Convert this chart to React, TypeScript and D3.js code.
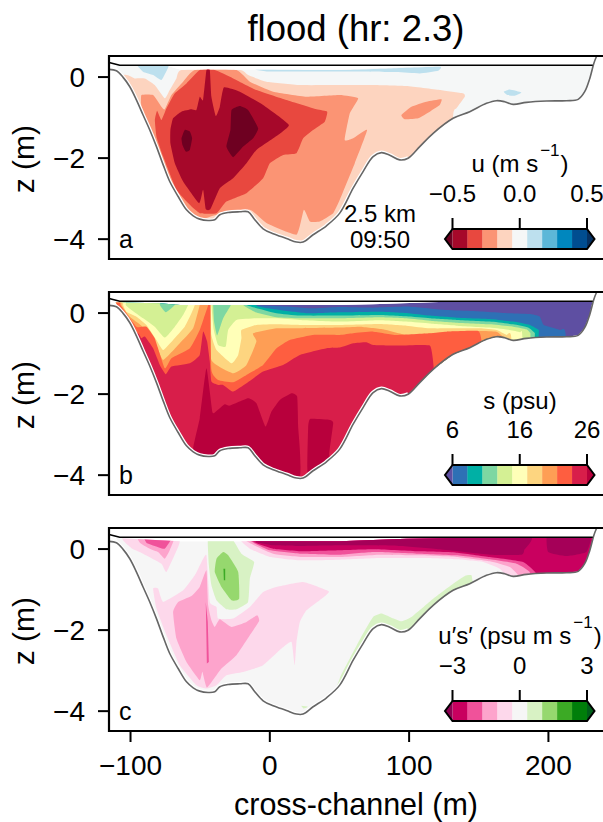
import React from "react";
import * as d3 from "d3";

type P = [number, number];

// Traced positions were read against a provisional x unit; this converts them to metres.
const TRACE_TO_M = 0.9619;

const xTicks = [-100, 0, 100, 200];
const zTicks = [0, -2, -4];
const panelLetters = ["a", "b", "c"];

const bathy: P[] = [[-119.9,.189],[-114.5,.156],[-109.5,-.008],[-104.5,-.238],[-99.5,-.567],[-94.6,-.936],[-89.6,-1.305],[-84.6,-1.716],[-79.6,-2.167],[-74.7,-2.578],[-68.4,-2.948],[-62.2,-3.276],[-57.2,-3.424],[-52.3,-3.506],[-46.1,-3.539],[-41.1,-3.522],[-37.3,-3.399],[-31.1,-3.342],[-22.4,-3.325],[-16.2,-3.325],[-11.2,-3.522],[-5,-3.744],[2.5,-3.867],[12.4,-3.982],[19.9,-4.072],[24.8,-4.072],[32.3,-3.892],[42.3,-3.67],[52.2,-3.358],[62.2,-2.742],[69.6,-2.332],[77.1,-1.962],[83.3,-1.864],[89.5,-1.929],[97,-2.044],[103.2,-2.003],[111.9,-1.716],[121.9,-1.388],[136.8,-1.018],[149.2,-.854],[161.7,-.649],[169.1,-.583],[175.3,-.608],[181.6,-.673],[191.5,-.624],[206.4,-.591],[221.4,-.583],[230.1,-.55],[235,-.361],[238.8,-.033],[241.8,.337],[243.7,.501]];
const surface: P[] = [[-120,.36],[-112,.29],[241,.29]];

const waterTopA: P[] = [[-115,.279],[-75.9,.271],[-67.2,.189],[52.2,.189],[89.5,.238],[126.8,.279],[241,.287]];
const waterTopB: P[] = [[-115,.26],[-82,.241],[-67,.2],[52.2,.2],[77,.216],[131.8,.282],[241,.298]];
const waterTopC: P[] = [[-115,.273],[-67.2,.191],[52.2,.191],[102,.257],[151.7,.282],[241,.29]];

// ---- panel a: u ----
const uColors = ["#a6082a","#e8483f","#fb9474","#fdd4bf","#f5f7f7","#bde0ee","#5cb7d8","#0087be","#004d90"];
const uExtend = ["#6e0021","#053061"];
const uTicks = ["−0.5","0.0","0.5"];
const uLight: P[] = [[-112,-.115],[-100.8,-.033],[-93.3,-.033],[-85.9,-.197],[-78.4,-.525],[-74.7,-.32],[-69.7,-.033],[-65.9,.172],[-22.4,.172],[-16.2,.049],[-2.5,-.115],[22.4,-.197],[52.2,-.197],[77.1,-.197],[102,-.222],[126.8,-.32],[144.2,-.402],[145.5,-.484],[139.3,-.772],[136.8,-1.018],[136.8,-5],[-120,-5]];
const uMed: P[] = [[-95.8,-.443],[-87.1,-.443],[-80.9,-.731],[-78.4,-.796],[-73.4,-.443],[-64.7,-.115],[-56,.172],[-24.9,.172],[-14.9,-.115],[2.5,-.361],[27.4,-.484],[52.2,-.443],[65.9,-.525],[59.7,-.895],[55.9,-1.552],[62.2,-1.511],[72.6,-1.305],[63.4,-2.126],[52.2,-3.03],[47.3,-3.358],[37.3,-3.563],[29.9,-3.563],[25.4,-3.276],[19.9,-3.891],[-2.5,-3.604],[-14.9,-3.276],[-39.8,-3.399],[-52.3,-3.522],[-64.7,-3.276],[-74.7,-2.619],[-83.4,-1.88],[-89.6,-1.264],[-95.8,-.731]];
const uMedIsland: P[] = [[98.2,-.936],[105.7,-.731],[116.9,-.608],[128.1,-.55],[126.8,-.69],[119.4,-.854],[110.7,-1.018],[100.7,-1.043]];
const uRed: P[] = [[-85.8,-1.059],[-84.1,-.829],[-80.9,-1.059],[-77.1,-.772],[-70.9,-.402],[-62.2,-.156],[-52.3,.172],[-41.1,.172],[-27.4,-.033],[-10,-.32],[12.4,-.567],[34.8,-.796],[42.8,-.854],[41,-1.1],[32.3,-1.305],[24.9,-1.511],[19.9,-1.88],[10,-1.921],[0,-2.126],[-5,-2.496],[-17.4,-2.865],[-32.4,-3.071],[-39.8,-3.358],[-52.3,-3.358],[-59.7,-3.153],[-69.7,-2.783],[-79.6,-1.962],[-84.6,-1.47]];
const uDark: P[] = [[-74.2,-1.305],[-72.2,-1.018],[-66,-.854],[-58.5,-.796],[-54.8,-.813],[-52.3,-.484],[-49.8,-.567],[-47.3,.172],[-44.8,.172],[-43.6,-.484],[-40.3,-.961],[-37.3,-.731],[-34.3,-.255],[-22.4,-.361],[-5,-.69],[14.2,-1.182],[2.5,-1.511],[-10,-1.798],[-17.4,-2.126],[-27.4,-2.496],[-37.3,-2.742],[-44.3,-3.259],[-47.8,-3.259],[-49.8,-2.783],[-52.8,-3.112],[-64.7,-2.578],[-70.9,-2.126],[-74.2,-1.634]];
const uDarkest1: P[] = [[-65.9,-1.511],[-63.5,-1.305],[-59.7,-1.346],[-58,-1.511],[-59.7,-1.798],[-62.7,-1.839],[-65.2,-1.675]];
const uDarkest2: P[] = [[-28.6,-.813],[-22.4,-.714],[-16.2,-.813],[-8.7,-1.264],[-12.5,-1.511],[-19.9,-1.716],[-27.4,-1.979],[-32.4,-1.716],[-29.4,-1.305]];
const uBlueLeft: P[] = [[-100.8,.4],[-75.9,.4],[-75.9,.238],[-80.9,-.074],[-87.1,.049],[-94.6,.131]];
const uBlueStreak: P[] = [[-10,.189],[52.2,.172],[89.5,.213],[126.8,.255],[125.6,.156],[111.9,.09],[94.5,.123],[67.1,.14],[22.4,.14],[-2.5,.14]];
const uBlueIsland: P[] = [[174.6,-.361],[179.1,-.304],[187.8,-.378],[182.8,-.46],[177.3,-.443]];

// ---- panel b: s ----
const sColors = ["#2e70b5","#00b0a5","#7dd7a2","#d4f094","#ffffb8","#fdd580","#fe9e55","#fe5e40","#d81e4a"];
const sExtend = ["#5e4fa2","#b8003c"];
const sTicks = ["6","16","26"];
const sBlue: P[] = [[-11.2,.4],[-11.2,.2],[2.5,.175],[14.9,.159],[32.3,.118],[52.2,.15],[77.1,.134],[104.4,.159],[131.8,.077],[151.7,.052],[179.1,-.006],[195.3,-.03],[201.5,-.088],[204.5,-.293],[216.4,-.417],[220.9,-.581]];
const sTeal: P[] = [[-10,.4],[-10,.183],[-1.3,.118],[12.4,.052],[29.8,-.006],[52.2,.019],[82,.035],[102,.003],[119.4,-.063],[139.3,-.113],[164.2,-.145],[181.6,-.211],[194,-.293],[200.7,-.417],[200.7,-.622]];
const sGreen: P[] = [[-17.4,.4],[-17.4,.2],[-7.5,.101],[5,-.006],[22.4,-.063],[52.2,-.063],[82,-.047],[102,-.08],[119.4,-.129],[139.3,-.17],[164.2,-.211],[181.6,-.277],[192.8,-.359],[197.8,-.499],[197.8,-.622]];
const sLime: P[] = [[-82.1,.4],[-82.1,.2],[-77.6,.019],[-70.9,.2],[-70.9,.4],[-42.3,.4],[-42.3,.2],[-41.6,-.211],[-39.3,-.556],[-34.8,-.129],[-29.1,.2],[-29.1,.4],[-19.9,.4],[-19.9,.2],[-10,.011],[5,-.104],[22.4,-.129],[52.2,-.129],[82,-.104],[102,-.129],[119.4,-.187],[139.3,-.236],[164.2,-.277],[181.6,-.335],[191.5,-.4],[194.5,-.499],[194.5,-.622]];
const sPale: P[] = [[-107.5,.4],[-107.5,.2],[-103.3,.076],[-94.6,-.129],[-85.9,-.335],[-78.4,-.606],[-70.9,-.335],[-64.7,-.047],[-61,.2],[-61,.4],[-43.6,.4],[-43.6,.2],[-41.8,-.417],[-38.6,-.787],[-32.9,-.828],[-31.1,-.417],[-24.9,-.17],[-10,-.129],[5,-.129],[22.4,-.17],[52.2,-.211],[82,-.178],[102,-.211],[119.4,-.26],[139.3,-.31],[164.2,-.359],[179.1,-.417],[186.6,-.474],[188.5,-.622]];
const sLtOrange: P[] = [[-109.5,.4],[-109.5,.2],[-107,.035],[-99.5,-.088],[-92.1,-.293],[-84.6,-.663],[-79.6,-.91],[-72.2,-.663],[-63.5,-.335],[-58.5,-.006],[-56,.2],[-56,.4],[-44,.4],[-44,.2],[-43.6,-.54],[-39.8,-.91],[-28.6,-1.239],[-23.6,-1.033],[-21.2,-.622],[-21.2,-.417],[-10,-.293],[5,-.277],[22.4,-.293],[52.2,-.293],[82,-.269],[102,-.31],[119.4,-.376],[139.3,-.376],[156.7,-.376],[169.1,-.417],[176.6,-.54],[180.3,-.663]];
const sOrange: P[] = [[-110.7,.4],[-110.7,.2],[-104.5,-.088],[-95.8,-.31],[-85.9,-.704],[-79.6,-1.157],[-67.2,-.746],[-57.2,-.376],[-52.3,.2],[-52.3,.4],[-44.8,.4],[-44.8,.2],[-43.6,-1.157],[-27.4,-1.485],[-17.4,-1.28],[-10,-.704],[-12.5,-.499],[5,-.376],[22.4,-.376],[52.2,-.359],[67.1,-.335],[84.5,-.4],[102,-.54],[121.9,-.499],[134.3,-.458],[156.7,-.441],[169.1,-.458],[174.1,-.581],[174.1,-.704]];
const sRedOrange: P[] = [[-111.5,.4],[-111.5,.2],[-99.5,-.335],[-92.1,-.335],[-85.9,-.622],[-78.4,-1.362],[-73.4,-1.115],[-59.7,-.869],[-52.3,-.417],[-49.3,-.129],[-46,.2],[-46,.4],[-44.3,.4],[-44.3,.2],[-43.6,-1.403],[-38.6,-1.65],[-27.4,-1.707],[-17.4,-1.526],[-5,-1.28],[5,-.869],[14.9,-.663],[32.3,-.54],[52.2,-.54],[62.2,-.499],[77.1,-.458],[94.5,-.54],[119.4,-.499],[131.8,-.458],[155.4,-.441],[157.9,-.663],[157.9,-.951]];
const sCrimson: P[] = [[-100,-.622],[-95.8,-.622],[-93.3,-.581],[-87.1,-.869],[-82.1,-1.28],[-77.6,-1.51],[-73.4,-1.321],[-59.7,-1.239],[-52.3,-1.033],[-49.8,-.458],[-46.8,-.704],[-44.8,-1.198],[-43.6,-1.691],[-38.6,-1.773],[-34.8,-1.773],[-27.4,-1.937],[-17.4,-1.732],[-5,-1.444],[9.9,-1.28],[22.4,-1.033],[42.3,-.869],[52.2,-.852],[62.2,-.746],[72.1,-.721],[77.1,-.787],[97,-.803],[119.4,-.803],[122.4,-1.362],[122.4,-1.773],[122.4,-5],[-100,-5]];
const sDark1: P[] = [[-57.2,-3.335],[-52.3,-2.595],[-47.3,-1.362],[-42.8,-2.447],[-39.8,-2.414],[-33.6,-2.25],[-29.9,-2.283],[-16.2,-2.102],[-10,-2.225],[-3.2,-2.8],[1.2,-2.431],[7.5,-2.143],[16.2,-1.979],[20.4,-2.061],[21.1,-2.76],[20.4,-4.24],[-57.2,-4.24]];
const sDark2: P[] = [[28.6,-4.24],[28.6,-2.841],[30.3,-2.611],[44.8,-2.636],[47.3,-2.718],[44.3,-3.499],[47.3,-3.91]];

// ---- panel c: u's' ----
const fColors = ["#c9005f","#f0529a","#fda4cc","#fdd8eb","#f6f6f6","#d8f2c4","#96d86e","#3caa25","#007e0a"];
const fExtend = ["#8e0152","#00601a"];
const fTicks = ["−3","0","3"];
const fLeftLight: P[] = [[-109.5,.4],[-109.5,.216],[-105.8,.092],[-102,-.006],[-94.6,-.113],[-80.9,-.36],[-77.1,-.565],[-68.4,.051],[-67.2,.191],[-67.2,.4]];
const fLeftMed: P[] = [[-99.5,.4],[-97,.158],[-89.6,.01],[-83.4,-.072],[-78.4,-.236],[-74.7,-.031],[-70.9,.4]];
const fLeftDeep: P[] = [[-94.6,.4],[-92.1,.158],[-85.9,.076],[-78.4,.01],[-71.7,.4]];
const fLight: P[] = [[-87.1,-.976],[-83.4,-.976],[-79.6,-1.305],[-64.7,-1.017],[-56,-.647],[-51,-.318],[-47.3,-.154],[-44.8,-1.305],[-39.8,-1.428],[-38.6,-1.716],[-27.4,-1.716],[-14.9,-1.428],[-5,-1.058],[5,-.935],[24.9,-.812],[44,-1.042],[38.6,-1.223],[27.4,-1.51],[22.4,-1.798],[19.9,-2.291],[18.6,-2.867],[16.2,-2.291],[8.7,-2.456],[-5,-2.867],[-19.9,-3.031],[-32.4,-3.113],[-39.8,-3.36],[-47.3,-3.442],[-54.8,-3.36],[-67.2,-2.867],[-77.1,-2.127],[-84.6,-1.469]];
const fMed: P[] = [[-72.2,-1.551],[-68.4,-1.305],[-58.5,-1.157],[-52.3,-.935],[-47.3,-.524],[-46,-1.387],[-43.6,-1.757],[-41.1,-1.921],[-37.3,-1.732],[-28.6,-1.921],[-17.4,-1.798],[-9.5,-1.634],[-8,-1.773],[-14.9,-2.127],[-24.9,-2.62],[-36.1,-2.949],[-46.8,-3.417],[-50.3,-3.031],[-52.3,-3.237],[-62.2,-2.784],[-69.7,-2.209]];
const fSeam: P[] = [[-47.8,-1.305],[-46.3,-1.798],[-45.5,-2.784],[-47,-2.826],[-47.3,-2.209]];
const fGreenLight: P[] = [[-46,.4],[-31.1,.4],[-21.2,-.113],[-11.7,-.318],[-14.9,-.729],[-16.2,-1.305],[-24.9,-1.486],[-32.4,-1.486],[-39.8,-1.264],[-43.6,-.894],[-45.5,-.401]];
const fGreenMed: P[] = [[-34.8,-.072],[-31.1,-.154],[-23.6,-.565],[-22.9,-1.223],[-28.6,-1.264],[-36.1,-.935],[-41.1,-.565],[-39.8,-.236]];
const fGreenDark: P[] = [[-34.6,-.483],[-33.3,-.483],[-33.3,-.771],[-34.3,-.771]];
const fGreenBank: P[] = [[150.5,-.647],[145.5,-.664],[136.8,-.853],[121.9,-1.223],[105.7,-1.675],[98.2,-1.782],[89.5,-1.675],[83.3,-1.593],[77.1,-1.675],[69.6,-2.086],[59.7,-2.702],[52.2,-3.195],[52.2,-3.6],[160,-1.5],[152,-.9]];
const fGreenSpot: P[] = [[23.6,-3.87],[28.6,-3.894],[25.4,-3.935]];
const fTopLight: P[] = [[-21.2,.4],[-21.2,.19],[-14.9,.01],[0,-.195],[22.4,-.277],[52.2,-.261],[82,-.22],[114.4,-.22],[139.3,-.253],[159.2,-.318],[171.6,-.483],[176.6,-.688],[176.6,-1],[260,-1],[260,.4]];
const fTopMed: P[] = [[-16.2,.4],[-16.2,.175],[2.5,-.113],[24.9,-.195],[52.2,-.195],[82,-.138],[109.4,-.154],[139.3,-.195],[164.2,-.302],[179.1,-.442],[185.3,-.647],[185.3,-1],[260,-1],[260,.4]];
const fTopDeep: P[] = [[-13,.4],[-13,.175],[0,-.031],[22.4,-.113],[52.2,-.138],[77.1,-.072],[109.4,-.113],[139.3,-.154],[164.2,-.253],[184.1,-.36],[194,-.565],[194,-1],[260,-1],[260,.4]];
const fTopMagenta: P[] = [[-11.7,.4],[-11.7,.175],[2.5,.01],[24.9,-.055],[52.2,-.031],[77.1,-.006],[109.4,-.055],[139.3,-.088],[164.2,-.195],[189,-.318],[199,-.606],[199,-1],[260,-1],[260,.4]];
const fTopDark1: P[] = [[-10,.4],[-10,.175],[2.5,.093],[22.4,.076],[52.2,.093],[72.1,.093],[97,.076],[126.8,-.006],[164.2,-.138],[187.8,-.138],[189.8,-.031],[189.8,.4]];
const fTopDark2: P[] = [[207.7,.4],[207.7,-.072],[221.4,-.171],[236.3,-.072],[239.5,.4]];

// Polygon for "everything under this upper contour line".
const under = (line: P[]): P[] => [[-125, .4], ...line, [line[line.length - 1][0], -5], [-125, -5]];

const panels = [
  {
    top: 56, letter: panelLetters[0], waterTop: waterTopA, base: uColors[4], ticks: uTicks,
    colors: uColors, extend: uExtend,
    layers: [
      { c: uColors[5], p: uBlueLeft }, { c: uColors[5], p: uBlueStreak }, { c: uColors[5], p: uBlueIsland },
      { c: uColors[3], p: uLight }, { c: uColors[2], p: uMed }, { c: uColors[2], p: uMedIsland },
      { c: uColors[1], p: uRed }, { c: uColors[0], p: uDark }, { c: uExtend[0], p: uDarkest1 }, { c: uExtend[0], p: uDarkest2 },
    ],
  },
  {
    top: 292, letter: panelLetters[1], waterTop: waterTopB, base: sExtend[0], ticks: sTicks,
    colors: sColors, extend: sExtend,
    layers: [
      { c: sColors[0], p: under(sBlue) }, { c: sColors[1], p: under(sTeal) }, { c: sColors[2], p: under(sGreen) },
      { c: sColors[3], p: under(sLime) }, { c: sColors[4], p: under(sPale) }, { c: sColors[5], p: under(sLtOrange) },
      { c: sColors[6], p: under(sOrange) }, { c: sColors[7], p: under(sRedOrange) }, { c: sColors[8], p: sCrimson },
      { c: sExtend[1], p: sDark1 }, { c: sExtend[1], p: sDark2 },
    ],
  },
  {
    top: 528, letter: panelLetters[2], waterTop: waterTopC, base: fColors[4], ticks: fTicks,
    colors: fColors, extend: fExtend,
    layers: [
      { c: fColors[3], p: fLeftLight }, { c: fColors[2], p: fLeftMed }, { c: fColors[1], p: fLeftDeep },
      { c: fColors[5], p: fGreenBank }, { c: fColors[5], p: fGreenSpot },
      { c: fColors[3], p: fLight }, { c: fColors[2], p: fMed }, { c: fColors[1], p: fSeam, sharp: true },
      { c: fColors[5], p: fGreenLight }, { c: fColors[6], p: fGreenMed }, { c: fColors[7], p: fGreenDark, sharp: true },
      { c: fColors[3], p: fTopLight }, { c: fColors[2], p: fTopMed }, { c: fColors[1], p: fTopDeep },
      { c: fColors[0], p: fTopMagenta }, { c: "#a50058", p: fTopDark1 }, { c: "#a50058", p: fTopDark2 },
    ],
  },
];

const W = 603, H = 822;
const LEFT = 109, RIGHT = 604, PANEL_H = 203;
const FONT = "'Liberation Sans', Arial, sans-serif";

const xScale = d3.scaleLinear().domain([-115.45, 239.9]).range([LEFT, RIGHT]);
const cbX = d3.scaleLinear().domain([0, 9]).range([452.5, 587]);
const cbTickPos = [0, 4.5, 9];

function Panel({ cfg, last }: { cfg: (typeof panels)[number]; last: boolean }) {
  const { top } = cfg;
  const y = d3.scaleLinear().domain([0.52, -4.49]).range([top, top + PANEL_H]);
  const toXY = (p: P): [number, number] => [xScale(p[0] * TRACE_TO_M), y(p[1])];
  const line = d3.line<P>().x((p) => toXY(p)[0]).y((p) => toXY(p)[1]);
  const smoothClosed = d3.line<P>().x((p) => toXY(p)[0]).y((p) => toXY(p)[1]).curve(d3.curveCardinalClosed.tension(0.6));
  const smoothOpen = d3.line<P>().x((p) => toXY(p)[0]).y((p) => toXY(p)[1]).curve(d3.curveCatmullRom.alpha(0.5));
  const bed = bathy.filter((p) => p[0] > -114 && p[0] < 240.5);
  const water = [...cfg.waterTop, ...bed.slice().reverse()];
  const clipId = `water-${cfg.letter}`;
  const cbTop = top + 173;
  const cbH = 20;
  const cbMid = cbTop + cbH / 2;
  const [x0, x9] = [cbX(0), cbX(9)];
  return (
    <g fontFamily={FONT} fill="#000">
      <defs>
        <clipPath id={clipId}><path d={line(water) + "Z"} /></clipPath>
      </defs>
      <g clipPath={`url(#${clipId})`}>
        <path d={line(water) + "Z"} fill={cfg.base} />
        {cfg.layers.map((l: any, i: number) => (
          <path key={i} d={l.sharp ? line(l.p) + "Z" : smoothClosed(l.p) ?? ""} fill={l.c} />
        ))}
      </g>
      <path d={smoothOpen(bathy.filter((p) => p[0] < 110)) ?? ""} fill="none" stroke="#fff" strokeWidth={4} />
      <path d={smoothOpen(bathy) ?? ""} fill="none" stroke="#666" strokeWidth={1.6} />
      <path d={line(surface) ?? ""} fill="none" stroke="#000" strokeWidth={1.6} />
      <path d={`M${RIGHT},${top}H${LEFT}V${top + PANEL_H}H${RIGHT}`} fill="none" stroke="#000" strokeWidth={2.2} />
      {zTicks.map((t) => (
        <g key={t}>
          <line x1={LEFT - 11} x2={LEFT} y1={y(t)} y2={y(t)} stroke="#000" strokeWidth={2} />
          <text x={85} y={y(t) + 10} fontSize={28} textAnchor="end">{t < 0 ? `−${-t}` : t}</text>
        </g>
      ))}
      <text transform={`translate(33.5,${y(-2) + 1}) rotate(-90)`} fontSize={30} textAnchor="middle">z (m)</text>
      <text x={119} y={top + 192} fontSize={25}>{cfg.letter}</text>

      {cfg.colors.map((c, i) => (
        <rect key={i} x={cbX(i)} y={cbTop} width={cbX(i + 1) - cbX(i) + 0.3} height={cbH} fill={c} />
      ))}
      <path d={`M${x0},${cbTop}L${x0 - 7.5},${cbMid}L${x0},${cbTop + cbH}Z`} fill={cfg.extend[0]} />
      <path d={`M${x9},${cbTop}L${x9 + 7.5},${cbMid}L${x9},${cbTop + cbH}Z`} fill={cfg.extend[1]} />
      <path d={`M${x0},${cbTop}L${x0 - 7.5},${cbMid}L${x0},${cbTop + cbH}H${x9}L${x9 + 7.5},${cbMid}L${x9},${cbTop}Z`} fill="none" stroke="#000" strokeWidth={2} />
      {cfg.ticks.map((t, i) => (
        <g key={t}>
          <line x1={cbX(cbTickPos[i])} x2={cbX(cbTickPos[i])} y1={cbTop - 11} y2={cbTop} stroke="#000" strokeWidth={2} />
          <text x={cbX(cbTickPos[i])} y={cbTop - 27} fontSize={24} textAnchor="middle">{t}</text>
        </g>
      ))}
      {last && xTicks.map((t) => (
        <g key={t}>
          <line x1={xScale(t)} x2={xScale(t)} y1={top + PANEL_H} y2={top + PANEL_H + 11} stroke="#000" strokeWidth={2} />
          <text x={xScale(t)} y={775} fontSize={28} textAnchor="middle">{t < 0 ? `−${-t}` : t}</text>
        </g>
      ))}
    </g>
  );
}

const Sup = () => (
  <>
    <tspan fontSize={17} dy={-16} dx={2}>−1</tspan>
    <tspan dy={16} dx={1}>)</tspan>
  </>
);

export default function App() {
  return (
    <svg width={W} height={H} style={{ position: "absolute", left: 0, top: 0, background: "#fff" }}>
      <text x={356} y={41} fontSize={36.5} textAnchor="middle" fontFamily={FONT}>flood (hr: 2.3)</text>
      {panels.map((p, i) => <Panel key={p.letter} cfg={p} last={i === 2} />)}
      <g fontFamily={FONT}>
        <text x={380} y={222} fontSize={24} textAnchor="middle">2.5 km</text>
        <text x={380} y={248} fontSize={24} textAnchor="middle">09:50</text>
        <text x={520} y={172} fontSize={24} textAnchor="middle">u (m s<Sup /></text>
        <text x={520} y={409} fontSize={24} textAnchor="middle">s (psu)</text>
        <text x={520} y={644} fontSize={24} textAnchor="middle">u′s′ (psu m s<Sup /></text>
        <text x={356} y={815} fontSize={30.5} textAnchor="middle">cross-channel (m)</text>
      </g>
    </svg>
  );
}
